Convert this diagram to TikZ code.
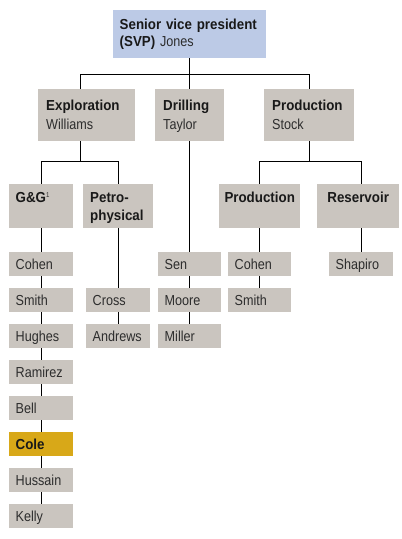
\documentclass[tikz,border=0pt]{standalone}
\usepackage{fontspec}
\setmainfont{Liberation Sans}[FakeStretch=0.87, BoldFeatures={FakeStretch=0.92}]
\usetikzlibrary{backgrounds,calc}
\definecolor{boxgray}{RGB}{202,197,191}
\definecolor{svpblue}{RGB}{188,202,230}
\definecolor{colegold}{RGB}{216,168,24}
\definecolor{txtdark}{RGB}{25,25,25}
\definecolor{txtname}{RGB}{45,45,45}
\tikzset{
  x=1pt, y=-1pt,
  orgbox/.style={rectangle, fill=boxgray, anchor=north west, inner ysep=0pt,
    font=\fontsize{14.5}{18}\selectfont, text=txtname},
  headbox/.style={orgbox, inner xsep=8pt, align=left, text height=21.5pt},
  subbox/.style={orgbox, inner xsep=7pt, align=left, text height=18.3pt, text depth=25.7pt},
  leafbox/.style={orgbox, inner xsep=6.5pt, align=left, text height=17.3pt, text depth=6.2pt},
  conn/.style={draw=black, line width=0.8pt},
}
\begin{document}
\begin{tikzpicture}
\useasboundingbox (0,0) rectangle (402,539);
% top level
\node[headbox, fill=svpblue, inner xsep=6.5pt, text width=140pt, text height=19.3pt, text depth=28.7pt] (svp) at (113,10)
  {\textbf{\color{txtdark}Senior vice president}\\[-0.6pt]\textbf{\color{txtdark}(SVP)} Jones};
% second level
\node[headbox, text width=81pt, text depth=30.5pt] (expl) at (38,89) {\textbf{\color{txtdark}Exploration}\\[0.6pt]Williams};
\node[headbox, text width=53pt, text depth=30.5pt] (drill) at (155,89) {\textbf{\color{txtdark}Drilling}\\[0.6pt]Taylor};
\node[headbox, text width=74pt, text depth=30.5pt] (prod) at (264,89) {\textbf{\color{txtdark}Production}\\[0.6pt]Stock};
% third level
\node[subbox, inner xsep=6.5pt, text width=51pt] (gg) at (9,184) {\textbf{\color{txtdark}G\&G}\textsuperscript{\fontsize{7}{7}\selectfont 1}};
\node[subbox, text width=56pt] (petro) at (83,184) {\textbf{\color{txtdark}Petro-}\\\textbf{\color{txtdark}physical}};
\node[subbox, inner xsep=0pt, align=center, text width=81pt] (psub) at (219,184) {\textbf{\color{txtdark}Production}};
\node[subbox, inner xsep=0pt, align=center, text width=82pt] (res) at (317,184) {\textbf{\color{txtdark}Reservoir}};
% leaves column 1
\node[leafbox, text width=51pt] (c1a) at (9,252) {Cohen};
\node[leafbox, text width=51pt] (c1b) at (9,288) {Smith};
\node[leafbox, text width=51pt] (c1c) at (9,324) {Hughes};
\node[leafbox, text width=51pt] (c1d) at (9,360) {Ramirez};
\node[leafbox, text width=51pt] (c1e) at (9,396) {Bell};
\node[leafbox, fill=colegold, text width=51pt] (c1f) at (9,432) {\textbf{\color{txtdark}Cole}};
\node[leafbox, text width=51pt] (c1g) at (9,468) {Hussain};
\node[leafbox, text width=51pt] (c1h) at (9,504) {Kelly};
% column 2
\node[leafbox, text width=51pt] (c2a) at (86,288) {Cross};
\node[leafbox, text width=51pt] (c2b) at (86,324) {Andrews};
% column 3
\node[leafbox, text width=50pt] (c3a) at (158,252) {Sen};
\node[leafbox, text width=50pt] (c3b) at (158,288) {Moore};
\node[leafbox, text width=50pt] (c3c) at (158,324) {Miller};
% column 4
\node[leafbox, text width=50pt] (c4a) at (228,252) {Cohen};
\node[leafbox, text width=50pt] (c4b) at (228,288) {Smith};
% column 5
\node[leafbox, text width=51pt] (c5a) at (329,252) {Shapiro};
% connectors
\begin{scope}[on background layer]
  \draw[conn] (svp.south) -- (drill.north);
  \draw[conn] ([xshift=42pt]expl.north west) |- ($(svp.south)+(0,16)$) coordinate (hb) -| (prod.north);
  \draw[conn] ([xshift=42pt]expl.south west) -- ++(0,20) coordinate (eb);
  \draw[conn] (gg.north) |- (eb) -| (petro.north);
  \draw[conn] (prod.south) -- ++(0,20) coordinate (pb);
  \draw[conn] (psub.north) |- (pb) -| (c5a.north);
  \draw[conn] (gg.south) -- (c1h.north);
  \draw[conn] (petro.south) -- (c2b.north);
  \draw[conn] (drill.south) -- (c3c.north);
  \draw[conn] (psub.south) -- (c4b.north);
\end{scope}
\end{tikzpicture}
\end{document}
